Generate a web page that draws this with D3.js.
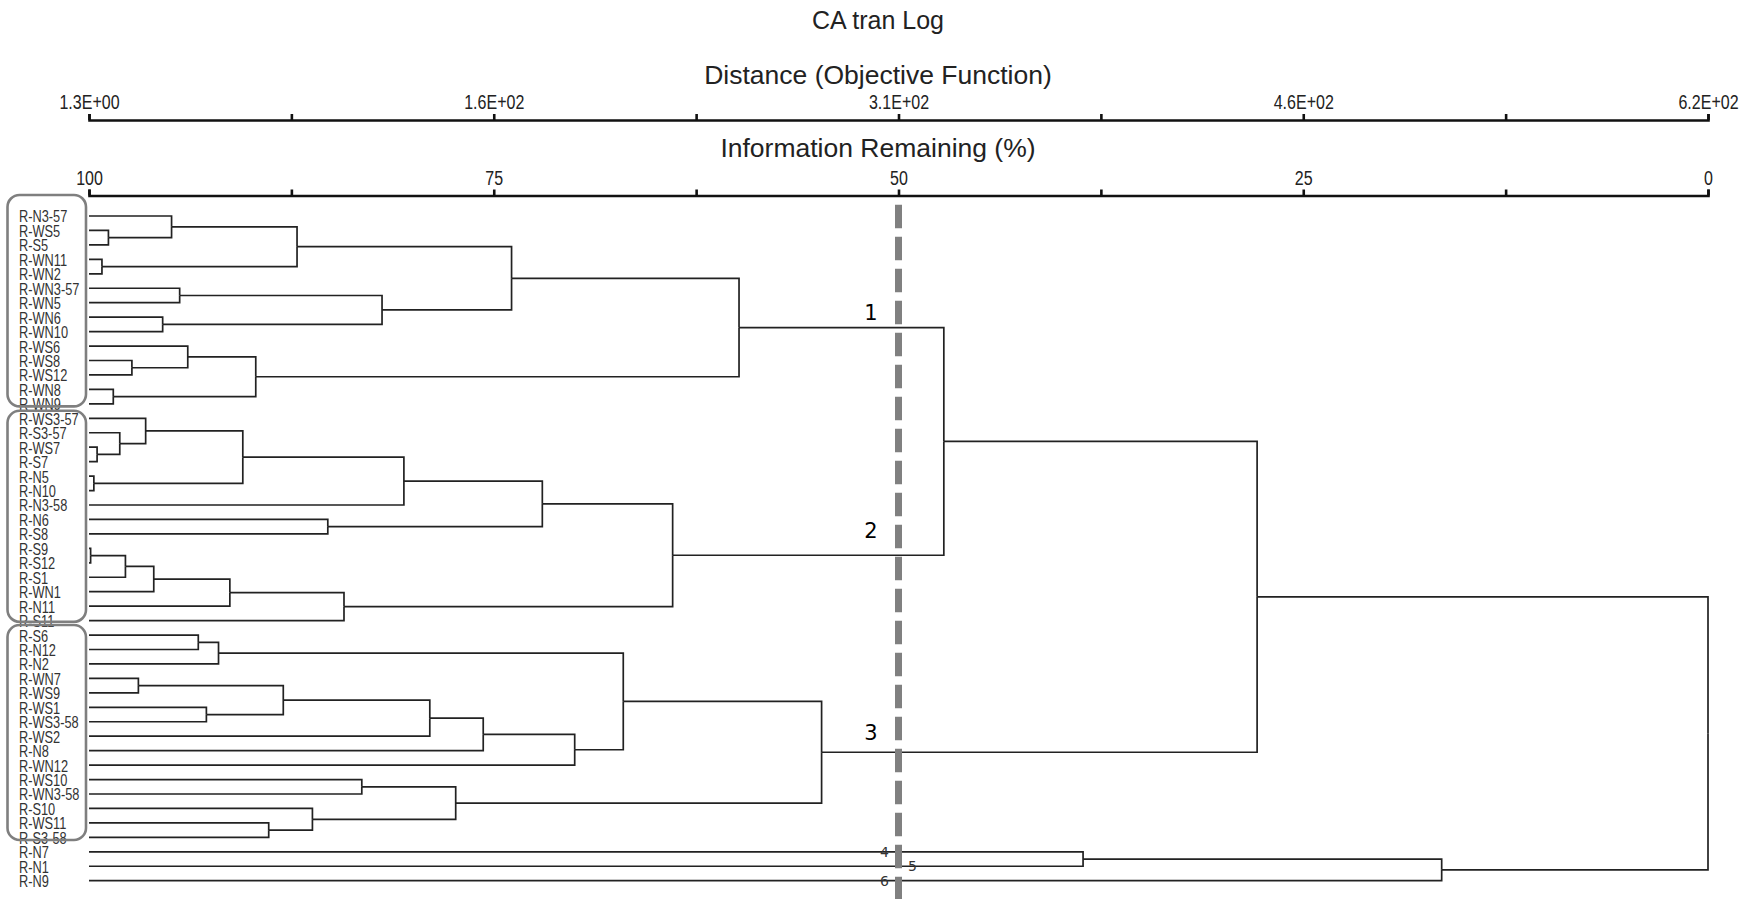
<!DOCTYPE html>
<html>
<head>
<meta charset="utf-8">
<script src="https://cdn.jsdelivr.net/npm/d3@7"></script>
<style>
  html, body { margin: 0; padding: 0; background: #fff; }
  svg { display: block; }
</style>
</head>
<body>
<svg id="chart"></svg>
<script>
// leaf order, top to bottom
var leaves = [
  'R-N3-57', 'R-WS5', 'R-S5', 'R-WN11', 'R-WN2', 'R-WN3-57', 'R-WN5', 'R-WN6',
  'R-WN10', 'R-WS6', 'R-WS8', 'R-WS12', 'R-WN8', 'R-WN9',
  'R-WS3-57', 'R-S3-57', 'R-WS7', 'R-S7', 'R-N5', 'R-N10', 'R-N3-58', 'R-N6',
  'R-S8', 'R-S9', 'R-S12', 'R-S1', 'R-WN1', 'R-N11', 'R-S11',
  'R-S6', 'R-N12', 'R-N2', 'R-WN7', 'R-WS9', 'R-WS1', 'R-WS3-58', 'R-WS2',
  'R-N8', 'R-WN12', 'R-WS10', 'R-WN3-58', 'R-S10', 'R-WS11', 'R-S3-58',
  'R-N7', 'R-N1', 'R-N9'
];

// merges: [upper child, lower child, information remaining (%)], merge i is 'm' + i
var merges = [
  ['R-WS5', 'R-S5', 98.8],        // m0
  ['R-N3-57', 'm0', 94.9],        // m1
  ['R-WN11', 'R-WN2', 99.2],      // m2
  ['m1', 'm2', 87.15],            // m3
  ['R-WN3-57', 'R-WN5', 94.4],    // m4
  ['R-WN6', 'R-WN10', 95.45],     // m5
  ['m4', 'm5', 81.9],             // m6
  ['m3', 'm6', 73.9],             // m7
  ['R-WS8', 'R-WS12', 97.35],     // m8
  ['R-WS6', 'm8', 93.9],          // m9
  ['R-WN8', 'R-WN9', 98.5],       // m10
  ['m9', 'm10', 89.7],            // m11
  ['m7', 'm11', 59.85],           // m12
  ['R-WS7', 'R-S7', 99.5],        // m13
  ['R-S3-57', 'm13', 98.1],       // m14
  ['R-WS3-57', 'm14', 96.5],      // m15
  ['R-N5', 'R-N10', 99.7],        // m16
  ['m15', 'm16', 90.5],           // m17
  ['m17', 'R-N3-58', 80.55],      // m18
  ['R-N6', 'R-S8', 85.25],        // m19
  ['m18', 'm19', 72.0],           // m20
  ['R-S9', 'R-S12', 99.9],        // m21
  ['m21', 'R-S1', 97.75],         // m22
  ['m22', 'R-WN1', 96.0],         // m23
  ['m23', 'R-N11', 91.3],         // m24
  ['m24', 'R-S11', 84.25],        // m25
  ['m20', 'm25', 63.95],          // m26
  ['m12', 'm26', 47.2],           // m27
  ['R-S6', 'R-N12', 93.25],       // m28
  ['m28', 'R-N2', 92.0],          // m29
  ['R-WN7', 'R-WS9', 96.95],      // m30
  ['R-WS1', 'R-WS3-58', 92.75],   // m31
  ['m30', 'm31', 88.0],           // m32
  ['m32', 'R-WS2', 78.95],        // m33
  ['m33', 'R-N8', 75.65],         // m34
  ['m34', 'R-WN12', 70.0],        // m35
  ['m29', 'm35', 67.0],           // m36
  ['R-WS10', 'R-WN3-58', 83.15],  // m37
  ['R-WS11', 'R-S3-58', 88.9],    // m38
  ['R-S10', 'm38', 86.2],         // m39
  ['m37', 'm39', 77.35],          // m40
  ['m36', 'm40', 54.75],          // m41
  ['m27', 'm41', 27.85],          // m42
  ['R-N7', 'R-N1', 38.6],         // m43
  ['m43', 'R-N9', 16.45],         // m44
  ['m42', 'm44', 0]               // m45
];

var infoTicks = [100, 87.5, 75, 62.5, 50, 37.5, 25, 12.5, 0];
var infoLabels = ['100', '', '75', '', '50', '', '25', '', '0'];
var distanceLabels = ['1.3E+00', '', '1.6E+02', '', '3.1E+02', '', '4.6E+02', '', '6.2E+02'];

var boxedGroups = [
  ['R-N3-57', 'R-WN9'],
  ['R-WS3-57', 'R-S11'],
  ['R-S6', 'R-S3-58']
];
var cutLevel = 50;
var clusterTags = [['1', 'm12'], ['2', 'm26'], ['3', 'm41']];
var leafTags = [['4', 'R-N7', -1], ['5', 'R-N1', 1], ['6', 'R-N9', -1]];

var title = 'CA tran Log';
var topAxisTitle = 'Distance (Objective Function)';
var bottomAxisTitle = 'Information Remaining (%)';

var W = 1746, H = 899;
var narrowFont = "'Liberation Sans Narrow', 'Arial Narrow', sans-serif";
var mainFont = "'Liberation Sans', Arial, sans-serif";

var svg = d3.select('#chart').attr('width', W).attr('height', H);

var x = d3.scaleLinear().domain([100, 0]).range([89, 1708]);
var yLeaf = d3.scalePoint().domain(leaves).range([216, 880.7]);

// build tree
var nodes = {};
leaves.forEach(function (name) {
  nodes[name] = { name: name, info: 100 };
});
merges.forEach(function (m, i) {
  nodes['m' + i] = { name: 'm' + i, info: m[2], children: [nodes[m[0]], nodes[m[1]]] };
});
var root = d3.hierarchy(nodes['m' + (merges.length - 1)]);
root.eachAfter(function (d) {
  d.px = x(d.data.info);
  d.py = d.children ? d3.mean(d.children, function (c) { return c.py; }) : yLeaf(d.data.name);
});
var byName = {};
root.each(function (d) { byName[d.data.name] = d; });

// titles
function centerTitle(text, y, size) {
  svg.append('text')
    .attr('x', 878)
    .attr('y', y)
    .attr('text-anchor', 'middle')
    .attr('font-family', mainFont)
    .attr('font-size', size)
    .attr('fill', '#222')
    .text(text);
}
centerTitle(title, 29, '25px');
centerTitle(topAxisTitle, 84, '26.5px');
centerTitle(bottomAxisTitle, 157, '26.5px');

// axes
var topAxis = d3.axisTop(x)
  .tickValues(infoTicks)
  .tickSize(6)
  .tickPadding(5)
  .tickFormat(function (d, i) { return distanceLabels[i]; });

var bottomAxis = d3.axisTop(x)
  .tickValues(infoTicks)
  .tickSize(6)
  .tickPadding(5)
  .tickFormat(function (d, i) { return infoLabels[i]; });

function styleAxis(g) {
  g.selectAll('path, line').attr('stroke', '#111').attr('stroke-width', 2.6);
  g.selectAll('text')
    .attr('font-family', narrowFont)
    .attr('font-size', '20px')
    .attr('fill', '#222');
}

svg.append('g').attr('transform', 'translate(0,120)').call(topAxis).call(styleAxis);
svg.append('g').attr('transform', 'translate(0,195.5)').call(bottomAxis).call(styleAxis);

// dendrogram links
svg.append('g')
  .attr('fill', 'none')
  .attr('stroke', '#222')
  .attr('stroke-width', 1.7)
  .selectAll('path')
  .data(root.links())
  .enter()
  .append('path')
  .attr('d', function (l) {
    return 'M' + l.target.px + ',' + l.target.py + 'H' + l.source.px + 'V' + l.source.py;
  });

// leaf labels
svg.append('g')
  .selectAll('text')
  .data(leaves)
  .enter()
  .append('text')
  .attr('x', 19)
  .attr('y', function (d) { return yLeaf(d) + 6.5; })
  .attr('font-family', narrowFont)
  .attr('font-size', '16px')
  .attr('fill', '#333')
  .text(function (d) { return d; });

// grey rounded boxes
var boxPad = [[21, 2.5], [7.5, 1.2], [10, 2.6]];
svg.append('g')
  .selectAll('rect')
  .data(boxedGroups)
  .enter()
  .append('rect')
  .attr('x', 7.5)
  .attr('y', function (d, i) { return yLeaf(d[0]) - boxPad[i][0]; })
  .attr('width', 78.5)
  .attr('height', function (d, i) {
    return yLeaf(d[1]) - yLeaf(d[0]) + boxPad[i][0] + boxPad[i][1];
  })
  .attr('rx', 12)
  .attr('fill', 'none')
  .attr('stroke', '#7f7f7f')
  .attr('stroke-width', 2.6);

// dashed cut line
svg.append('line')
  .attr('x1', x(cutLevel))
  .attr('x2', x(cutLevel))
  .attr('y1', 204.7)
  .attr('y2', H)
  .attr('stroke', '#808080')
  .attr('stroke-width', 7)
  .attr('stroke-dasharray', '23.6 8.4');

// cluster numbers
var tagLift = [8, 17, 12];
svg.append('g')
  .selectAll('text')
  .data(clusterTags)
  .enter()
  .append('text')
  .attr('x', x(cutLevel) - 21)
  .attr('y', function (d, i) { return byName[d[1]].py - tagLift[i]; })
  .attr('text-anchor', 'end')
  .attr('font-family', "'DejaVu Sans', sans-serif")
  .attr('font-size', '21px')
  .attr('fill', '#000')
  .text(function (d) { return d[0]; });

svg.append('g')
  .selectAll('text')
  .data(leafTags)
  .enter()
  .append('text')
  .attr('x', function (d) { return x(cutLevel) + d[2] * 14; })
  .attr('y', function (d) { return byName[d[1]].py + 5; })
  .attr('text-anchor', 'middle')
  .attr('font-family', "'DejaVu Sans', sans-serif")
  .attr('font-size', '14px')
  .attr('fill', '#333')
  .text(function (d) { return d[0]; });

// squeeze text horizontally if no narrow face is installed
(function () {
  var probeA = svg.append('text').attr('font-family', narrowFont).attr('font-size', '40px').text('R-WN3-57');
  var probeB = svg.append('text').attr('font-family', mainFont).attr('font-size', '40px').text('R-WN3-57');
  var a = probeA.node().getComputedTextLength();
  var b = probeB.node().getComputedTextLength();
  probeA.remove();
  probeB.remove();
  if (a > b * 0.92) {
    svg.selectAll('text').filter(function () {
      return d3.select(this).attr('font-family') === narrowFont;
    }).each(function () {
      var x0 = +d3.select(this).attr('x') || 0;
      d3.select(this).attr('transform',
        'translate(' + x0 + ',0) scale(0.8,1) translate(' + (-x0) + ',0)');
    });
  }
})();
</script>
</body>
</html>
